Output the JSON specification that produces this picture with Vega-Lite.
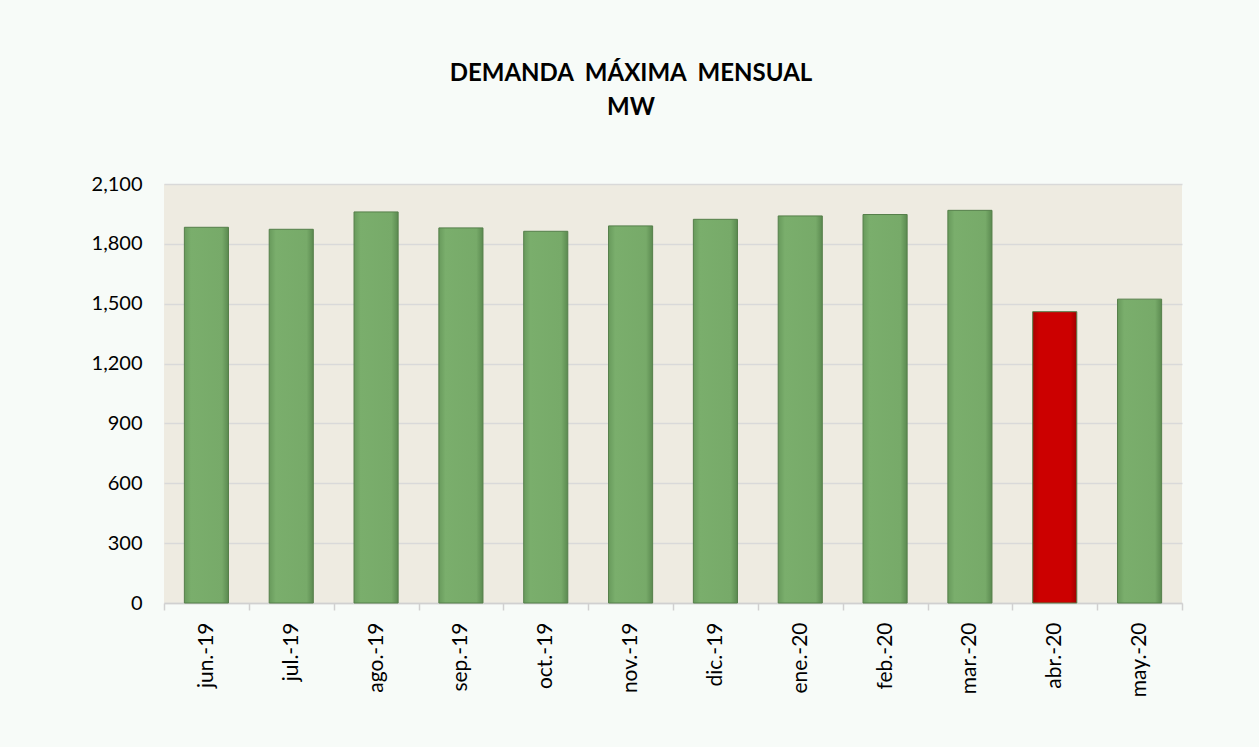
{
  "$schema": "https://vega.github.io/schema/vega-lite/v6.json",
  "autosize": "none",
  "width": 1018,
  "height": 419,
  "padding": {"left": 164, "top": 184, "right": 77, "bottom": 144},
  "background": "#f7fbf8",
  "title": {
    "text": ["DEMANDA\u00a0\u00a0MÁXIMA\u00a0\u00a0MENSUAL", "MW"],
    "font": "Lato",
    "fontWeight": "bold",
    "fontSize": 24,
    "lineHeight": 34,
    "color": "#000000",
    "anchor": "middle",
    "dx": -42,
    "offset": 54
  },
  "data": {
    "values": [
      {"mes": "jun.-19", "mw": 1883},
      {"mes": "jul.-19", "mw": 1873},
      {"mes": "ago.-19", "mw": 1960},
      {"mes": "sep.-19", "mw": 1880},
      {"mes": "oct.-19", "mw": 1863},
      {"mes": "nov.-19", "mw": 1890},
      {"mes": "dic.-19", "mw": 1923},
      {"mes": "ene.-20", "mw": 1940},
      {"mes": "feb.-20", "mw": 1947},
      {"mes": "mar.-20", "mw": 1968},
      {"mes": "abr.-20", "mw": 1460},
      {"mes": "may.-20", "mw": 1523}
    ]
  },
  "mark": {
    "type": "bar",
    "width": {"band": 0.52},
    "stroke": "#557f4a",
    "strokeWidth": 1
  },
  "encoding": {
    "x": {
      "field": "mes",
      "type": "nominal",
      "sort": null,
      "title": null,
      "scale": {"paddingInner": 0, "paddingOuter": 0},
      "axis": {
        "labelAngle": -90,
        "labelFont": "Lato",
        "labelFontSize": 21,
        "labelColor": "#000000",
        "labelPadding": 12,
        "tickBand": "extent",
        "tickColor": "#d0d0d0",
        "tickSize": 7,
        "tickWidth": 1.5,
        "domainColor": "#d0d0d0",
        "domainWidth": 1.5,
        "grid": false
      }
    },
    "y": {
      "field": "mw",
      "type": "quantitative",
      "title": null,
      "scale": {"domain": [0, 2100], "nice": false},
      "axis": {
        "values": [0, 300, 600, 900, 1200, 1500, 1800, 2100],
        "format": ",.0f",
        "labelFont": "Lato",
        "labelFontSize": 20,
        "labelColor": "#000000",
        "labelPadding": 22,
        "domain": false,
        "ticks": false,
        "grid": true,
        "gridColor": "#d9d9d9",
        "gridWidth": 1.5
      }
    },
    "color": {
      "condition": {
        "test": "datum.mes === 'abr.-20'",
        "value": {
          "gradient": "linear", "x1": 0, "y1": 0, "x2": 1, "y2": 0,
          "stops": [
            {"offset": 0, "color": "#a80000"},
            {"offset": 0.15, "color": "#cc0000"},
            {"offset": 0.85, "color": "#cc0000"},
            {"offset": 1, "color": "#a00000"}
          ]
        }
      },
      "value": {
        "gradient": "linear", "x1": 0, "y1": 0, "x2": 1, "y2": 0,
        "stops": [
          {"offset": 0, "color": "#689a5c"},
          {"offset": 0.15, "color": "#7aae6c"},
          {"offset": 0.85, "color": "#77aa69"},
          {"offset": 1, "color": "#5b8a50"}
        ]
      }
    }
  },
  "config": {
    "view": {"fill": "#eeebe1", "stroke": null}
  }
}
